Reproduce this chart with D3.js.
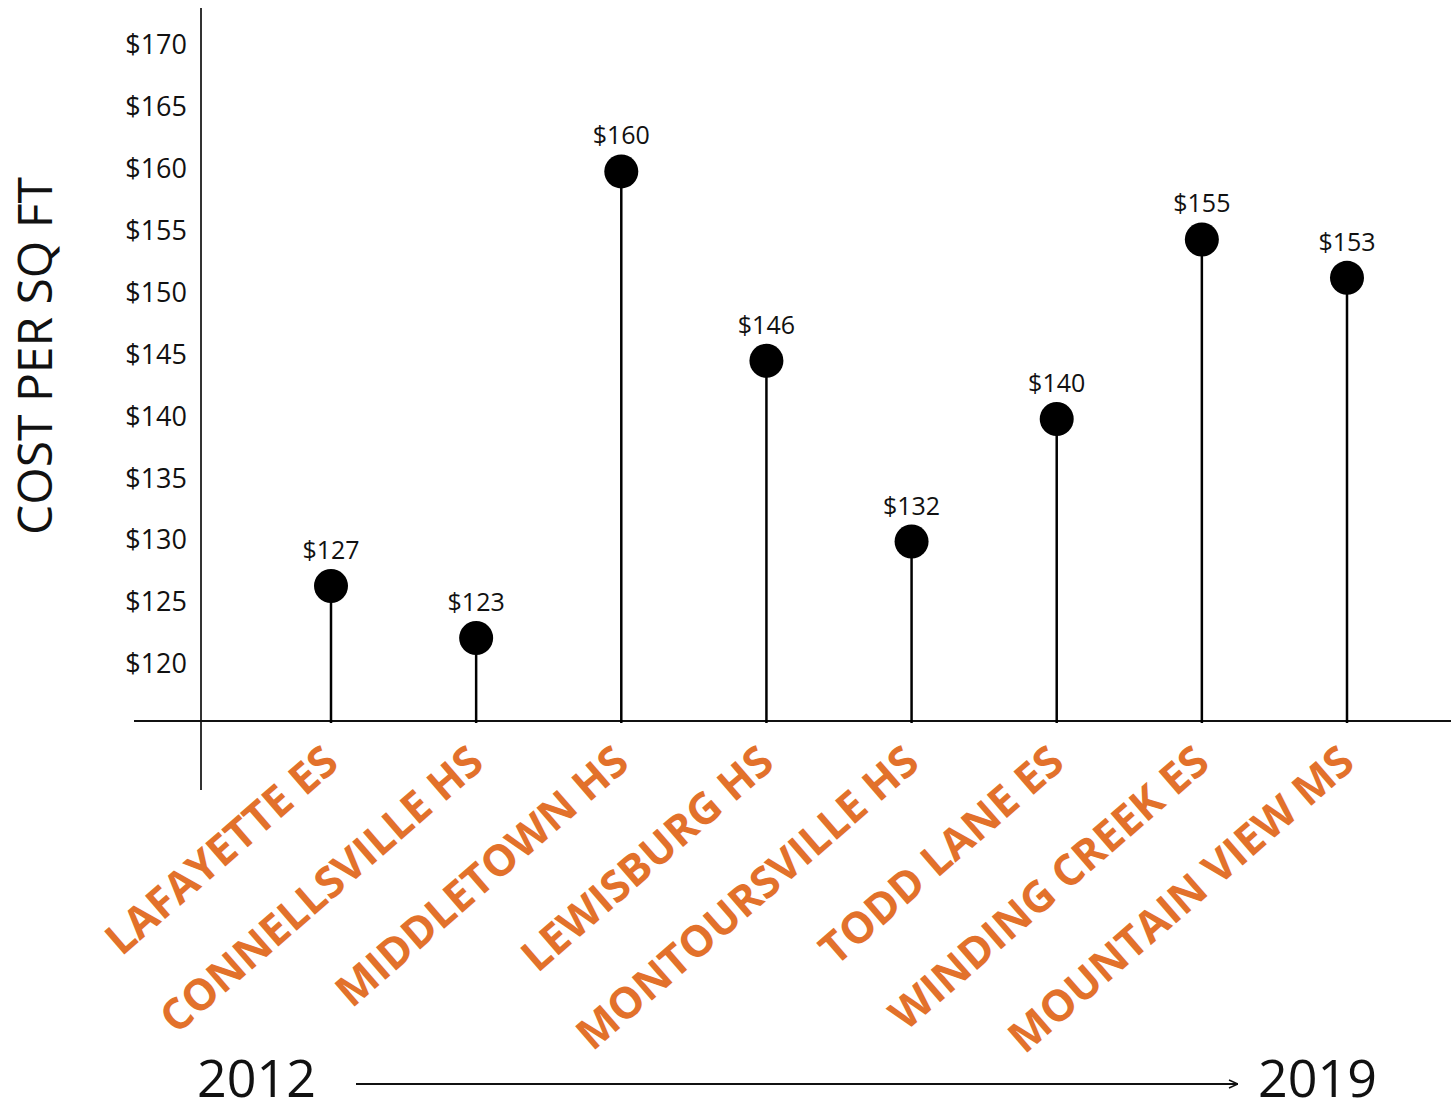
<!DOCTYPE html>
<html>
<head>
<meta charset="utf-8">
<script src="https://cdn.jsdelivr.net/npm/d3@7/dist/d3.min.js"></script>
<style>
  html, body { margin: 0; padding: 0; background: #fff; }
  svg { display: block; }
  text { font-family: "Open Sans", "DejaVu Sans", sans-serif; }
</style>
</head>
<body>
<svg id="chart" width="1451" height="1113"></svg>
<script>
// ---- data ----
const categories = ["LAFAYETTE ES", "CONNELLSVILLE HS", "MIDDLETOWN HS", "LEWISBURG HS",
                    "MONTOURSVILLE HS", "TODD LANE ES", "WINDING CREEK ES", "MOUNTAIN VIEW MS"];
// dot heights as drawn in the picture
const costs = [126.3, 122.1, 159.8, 144.5, 129.9, 139.8, 154.3, 151.2];
// value labels as printed above the dots
const costLabels = ["$127", "$123", "$160", "$146", "$132", "$140", "$155", "$153"];
const yTicks = [120, 125, 130, 135, 140, 145, 150, 155, 160, 165, 170];
const yTitle = "COST PER SQ FT";
const periodLabels = ["2012", "2019"];

// ---- layout ----
const svg = d3.select("#chart");
const orange = "#E2712B";

const x = d3.scalePoint().domain(categories).range([331, 1347]);
const y = d3.scaleLinear().domain([115.4, 173]).range([721, 8]);
const axisX = 201;

// y tick labels
const yAxis = svg.append("g")
  .attr("transform", `translate(${axisX},0)`)
  .call(d3.axisLeft(y).tickValues(yTicks).tickFormat(d => "$" + d).tickSize(0).tickPadding(14));
yAxis.select(".domain").remove();
yAxis.selectAll("text")
  .attr("font-family", "'Open Sans', sans-serif")
  .attr("font-size", 27)
  .attr("fill", "#111");

// vertical axis line
svg.append("line")
  .attr("x1", axisX).attr("x2", axisX)
  .attr("y1", y(173)).attr("y2", 790)
  .attr("stroke", "#333").attr("stroke-width", 2);

// horizontal baseline
svg.append("line")
  .attr("x1", 134).attr("x2", 1451)
  .attr("y1", y(115.4)).attr("y2", y(115.4))
  .attr("stroke", "#111").attr("stroke-width", 2);

// y title
svg.append("text")
  .attr("transform", `translate(52,356) rotate(-90)`)
  .attr("text-anchor", "middle")
  .attr("font-size", 48)
  .attr("fill", "#111")
  .text(yTitle);

// stems
svg.append("g").selectAll("line")
  .data(categories)
  .join("line")
  .attr("x1", d => x(d)).attr("x2", d => x(d))
  .attr("y1", (d, i) => y(costs[i]))
  .attr("y2", y(115.4) + 2)
  .attr("stroke", "#000").attr("stroke-width", 2.5);

// dots
svg.append("g").selectAll("circle")
  .data(categories)
  .join("circle")
  .attr("cx", d => x(d))
  .attr("cy", (d, i) => y(costs[i]))
  .attr("r", 17)
  .attr("fill", "#000");

// value labels
svg.append("g").selectAll("text")
  .data(categories)
  .join("text")
  .attr("x", d => x(d))
  .attr("y", (d, i) => y(costs[i]) - 27)
  .attr("text-anchor", "middle")
  .attr("font-size", 25)
  .attr("fill", "#111")
  .text((d, i) => costLabels[i]);

// category labels
svg.append("g").selectAll("text")
  .data(categories)
  .join("text")
  .attr("transform", d => `translate(${x(d) + 10},766) rotate(-41)`)
  .attr("text-anchor", "end")
  .attr("font-size", 43)
  .attr("font-weight", 700)
  .attr("fill", orange)
  .text(d => d);

// period labels and arrow
svg.append("defs").append("marker")
  .attr("id", "arrow")
  .attr("viewBox", "0 0 10 10")
  .attr("refX", 10).attr("refY", 5)
  .attr("markerWidth", 10).attr("markerHeight", 10)
  .attr("markerUnits", "userSpaceOnUse")
  .attr("orient", "auto")
  .append("path")
  .attr("d", "M1,1 L10,5 L1,9")
  .attr("fill", "none")
  .attr("stroke", "#111")
  .attr("stroke-width", 1.5);

svg.append("text")
  .attr("x", 197).attr("y", 1097)
  .attr("font-size", 52)
  .attr("fill", "#111")
  .text(periodLabels[0]);

svg.append("text")
  .attr("x", 1258).attr("y", 1097)
  .attr("font-size", 52)
  .attr("fill", "#111")
  .text(periodLabels[1]);

svg.append("line")
  .attr("x1", 356).attr("x2", 1238)
  .attr("y1", 1084).attr("y2", 1084)
  .attr("stroke", "#111").attr("stroke-width", 2)
  .attr("marker-end", "url(#arrow)");
</script>
</body>
</html>
